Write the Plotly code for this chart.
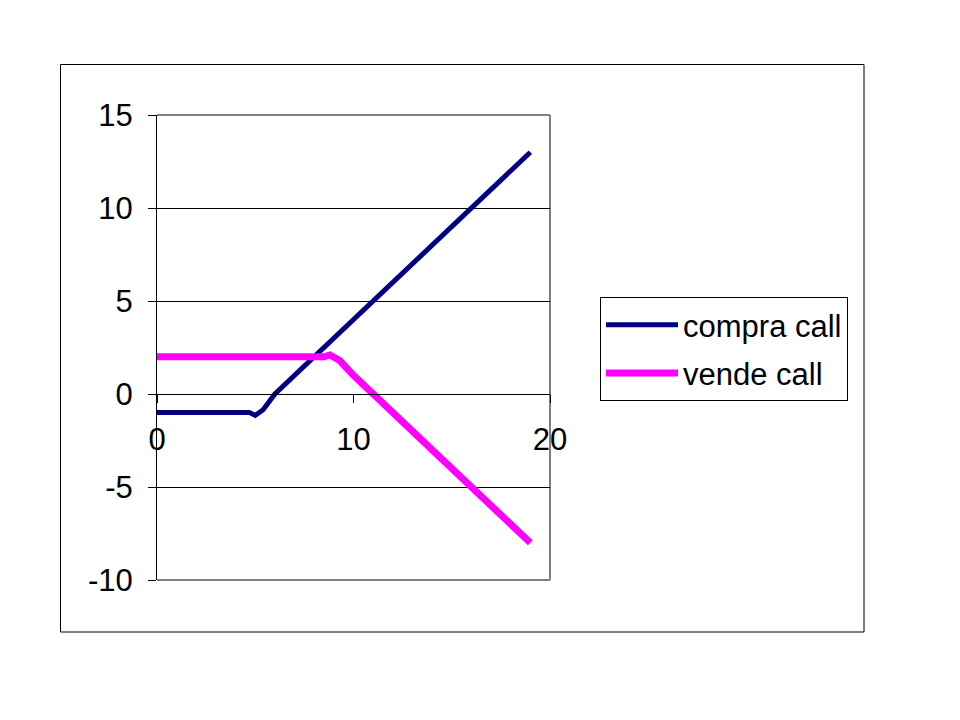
import plotly.graph_objects as go

# Data
x_compra = [0, 1, 2, 3, 4, 4.7, 5, 5.4, 6, 7, 8, 9, 10, 11, 12, 13, 14, 15, 16, 17, 18, 19]
y_compra = [-1, -1, -1, -1, -1, -1, -1.15, -0.85, 0, 1, 2, 3, 4, 5, 6, 7, 8, 9, 10, 11, 12, 13]
x_vende = [0, 1, 2, 3, 4, 5, 6, 7, 8, 8.5, 8.8, 9.3, 10, 11, 12, 13, 14, 15, 16, 17, 18, 19]
y_vende = [2, 2, 2, 2, 2, 2, 2, 2, 2, 2, 2.1, 1.8, 1, 0, -1, -2, -3, -4, -5, -6, -7, -8]
series_names = ["compra call", "vende call"]
x_ticks = [0, 10, 20]
y_ticks = [-10, -5, 0, 5, 10, 15]

FONT = "Liberation Sans, Arial, sans-serif"

fig = go.Figure()
fig.add_trace(go.Scatter(x=x_compra, y=y_compra, mode="lines", name=series_names[0],
                         line=dict(color="#000080", width=5), legendgroup="a"))
fig.add_trace(go.Scatter(x=x_vende, y=y_vende, mode="lines", name=series_names[1],
                         line=dict(color="#FF00FF", width=7), legendgroup="b"))

OFF = 8  # page body margin
L, R, T, B = 157 - OFF, 550 - OFF, 115 - OFF, 580 - OFF
W, H = 960 - OFF, 720 - OFF
pw, ph = R - L, B - T

def px_x(p):
    return (p - OFF - L) / pw

def px_y(p):
    return (B - (p - OFF)) / ph

fig.update_layout(
    width=W, height=H,
    margin=dict(l=L, r=W - R, t=T, b=H - B, pad=0),
    paper_bgcolor="white", plot_bgcolor="white",
    font=dict(family=FONT, size=31, color="black"),
    showlegend=True,
    legend=dict(
        x=px_x(600), y=px_y(297), xanchor="left", yanchor="top",
        bordercolor="black", borderwidth=1, bgcolor="white",
        font=dict(family=FONT, size=31, color="black"),
        itemwidth=72, tracegroupgap=5, traceorder="grouped",
    ),
    xaxis=dict(
        range=[0, 20], tickvals=x_ticks, ticktext=[str(v) for v in x_ticks],
        anchor="free", position=px_y(394),
        showgrid=False, zeroline=False, showline=True, linecolor="black", linewidth=1,
        ticks="outside", ticklen=8, tickcolor="black", ticklabelstandoff=10,
        tickfont=dict(family=FONT, size=31, color="black"),
    ),
    yaxis=dict(
        range=[-10, 15], tickvals=y_ticks, ticktext=[str(v) for v in y_ticks],
        showgrid=True, gridcolor="black", gridwidth=1, zeroline=False,
        showline=True, linecolor="black", linewidth=1,
        ticks="outside", ticklen=8, tickcolor="black", ticklabelstandoff=9,
        tickfont=dict(family=FONT, size=31, color="black"),
    ),
    shapes=[
        # outer chart border
        dict(type="rect", xref="paper", yref="paper",
             x0=px_x(60.5), x1=px_x(864), y0=px_y(632), y1=px_y(64.5),
             line=dict(color="black", width=1), layer="below"),
        # plot area border (top, right, bottom)
        dict(type="line", xref="paper", yref="paper", x0=0, x1=1, y0=1, y1=1,
             line=dict(color="#808080", width=2), layer="below"),
        dict(type="line", xref="paper", yref="paper", x0=1, x1=1, y0=0, y1=1,
             line=dict(color="#808080", width=2), layer="below"),
        dict(type="line", xref="paper", yref="paper", x0=0, x1=1, y0=0, y1=0,
             line=dict(color="#808080", width=2), layer="below"),
    ],
)

fig.write_html("out.html")
